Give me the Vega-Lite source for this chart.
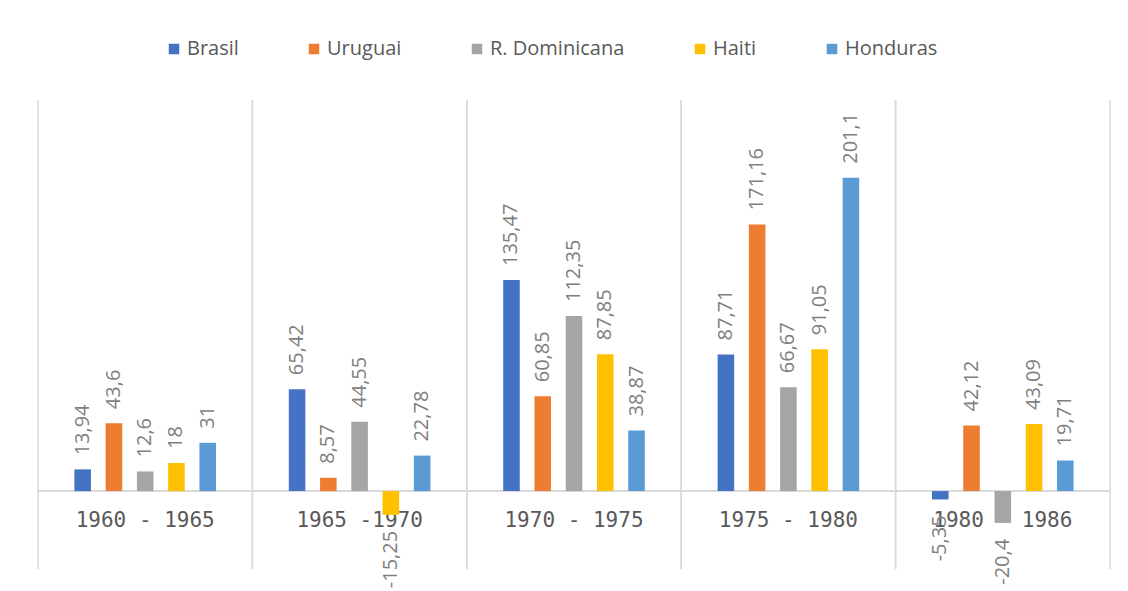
{
  "$schema": "https://vega.github.io/schema/vega-lite/v6.json",
  "width": 1072,
  "height": 469,
  "autosize": {"type": "none"},
  "padding": {"left": 38, "top": 100, "right": 18, "bottom": 22},
  "background": "#ffffff",
  "config": {
    "view": {"stroke": null},
    "font": "Open Sans",
    "locale": {"number": {"decimal": ",", "thousands": ".", "grouping": [3], "currency": ["", ""], "minus": "-"}}
  },
  "datasets": {
    "growth": [
      {"period": "1960 - 1965", "country": "Brasil", "value": 13.94},
      {"period": "1960 - 1965", "country": "Uruguai", "value": 43.6},
      {"period": "1960 - 1965", "country": "R. Dominicana", "value": 12.6},
      {"period": "1960 - 1965", "country": "Haiti", "value": 18},
      {"period": "1960 - 1965", "country": "Honduras", "value": 31},
      {"period": "1965 -1970", "country": "Brasil", "value": 65.42},
      {"period": "1965 -1970", "country": "Uruguai", "value": 8.57},
      {"period": "1965 -1970", "country": "R. Dominicana", "value": 44.55},
      {"period": "1965 -1970", "country": "Haiti", "value": -15.25},
      {"period": "1965 -1970", "country": "Honduras", "value": 22.78},
      {"period": "1970 - 1975", "country": "Brasil", "value": 135.47},
      {"period": "1970 - 1975", "country": "Uruguai", "value": 60.85},
      {"period": "1970 - 1975", "country": "R. Dominicana", "value": 112.35},
      {"period": "1970 - 1975", "country": "Haiti", "value": 87.85},
      {"period": "1970 - 1975", "country": "Honduras", "value": 38.87},
      {"period": "1975 - 1980", "country": "Brasil", "value": 87.71},
      {"period": "1975 - 1980", "country": "Uruguai", "value": 171.16},
      {"period": "1975 - 1980", "country": "R. Dominicana", "value": 66.67},
      {"period": "1975 - 1980", "country": "Haiti", "value": 91.05},
      {"period": "1975 - 1980", "country": "Honduras", "value": 201.1},
      {"period": "1980 - 1986", "country": "Brasil", "value": -5.35},
      {"period": "1980 - 1986", "country": "Uruguai", "value": 42.12},
      {"period": "1980 - 1986", "country": "R. Dominicana", "value": -20.4},
      {"period": "1980 - 1986", "country": "Haiti", "value": 43.09},
      {"period": "1980 - 1986", "country": "Honduras", "value": 19.71}
    ],
    "periods": [
      {"period": "1960 - 1965"},
      {"period": "1965 -1970"},
      {"period": "1970 - 1975"},
      {"period": "1975 - 1980"},
      {"period": "1980 - 1986"}
    ]
  },
  "layer": [
    {
      "data": {"name": "periods"},
      "mark": {"type": "rule", "color": "#d9d9d9", "strokeWidth": 1.5},
      "encoding": {
        "x": {"field": "period", "type": "nominal", "sort": null, "bandPosition": -0.0252, "scale": {"paddingInner": 0.048, "paddingOuter": 0.024}, "axis": null}
      }
    },
    {
      "data": {"name": "periods"},
      "mark": {"type": "rule", "color": "#d9d9d9", "strokeWidth": 1.5},
      "encoding": {
        "x": {"field": "period", "type": "nominal", "sort": null, "bandPosition": 1.0252, "axis": null}
      }
    },
    {
      "data": {"name": "periods"},
      "mark": {"type": "rule", "color": "#d9d9d9", "strokeWidth": 1.5},
      "encoding": {
        "y": {"datum": 0, "type": "quantitative", "scale": {"domain": [-50, 251], "nice": false, "zero": false}, "axis": null}
      }
    },
    {
      "data": {"name": "periods"},
      "mark": {"type": "text", "font": "DejaVu Sans Mono", "fontSize": 21, "color": "#595959", "baseline": "middle", "dy": 30},
      "encoding": {
        "x": {"field": "period", "type": "nominal", "sort": null, "axis": null},
        "y": {"datum": 0, "type": "quantitative"},
        "text": {"field": "period"}
      }
    },
    {
      "data": {"name": "growth"},
      "mark": {"type": "bar"},
      "encoding": {
        "x": {"field": "period", "type": "nominal", "sort": null, "axis": null},
        "xOffset": {"field": "country", "type": "nominal", "sort": null, "scale": {"paddingInner": 0.47, "paddingOuter": 1}},
        "y": {"field": "value", "type": "quantitative"},
        "color": {
          "field": "country", "type": "nominal", "sort": null,
          "scale": {"domain": ["Brasil", "Uruguai", "R. Dominicana", "Haiti", "Honduras"], "range": ["#4472C4", "#ED7D31", "#A5A5A5", "#FFC000", "#5B9BD5"]},
          "legend": {
            "title": null, "orient": "none", "direction": "horizontal", "legendX": 126, "legendY": -61,
            "symbolType": "square", "symbolSize": 110, "symbolStrokeWidth": 0,
            "labelFontSize": 20, "labelColor": "#595959", "labelOffset": 3, "columnPadding": 65
          }
        }
      }
    },
    {
      "data": {"name": "growth"},
      "transform": [{"filter": "datum.value >= 0"}],
      "mark": {"type": "text", "angle": 270, "align": "left", "baseline": "middle", "dx": 14, "fontSize": 20, "color": "#7f7f7f"},
      "encoding": {
        "x": {"field": "period", "type": "nominal", "sort": null, "axis": null},
        "xOffset": {"field": "country", "type": "nominal", "sort": null},
        "y": {"field": "value", "type": "quantitative"},
        "text": {"field": "value", "type": "quantitative", "format": "~g"}
      }
    },
    {
      "data": {"name": "growth"},
      "transform": [{"filter": "datum.value < 0"}],
      "mark": {"type": "text", "angle": 270, "align": "right", "baseline": "middle", "dx": -16, "fontSize": 20, "color": "#7f7f7f"},
      "encoding": {
        "x": {"field": "period", "type": "nominal", "sort": null, "axis": null},
        "xOffset": {"field": "country", "type": "nominal", "sort": null},
        "y": {"field": "value", "type": "quantitative"},
        "text": {"field": "value", "type": "quantitative", "format": "~g"}
      }
    }
  ]
}
